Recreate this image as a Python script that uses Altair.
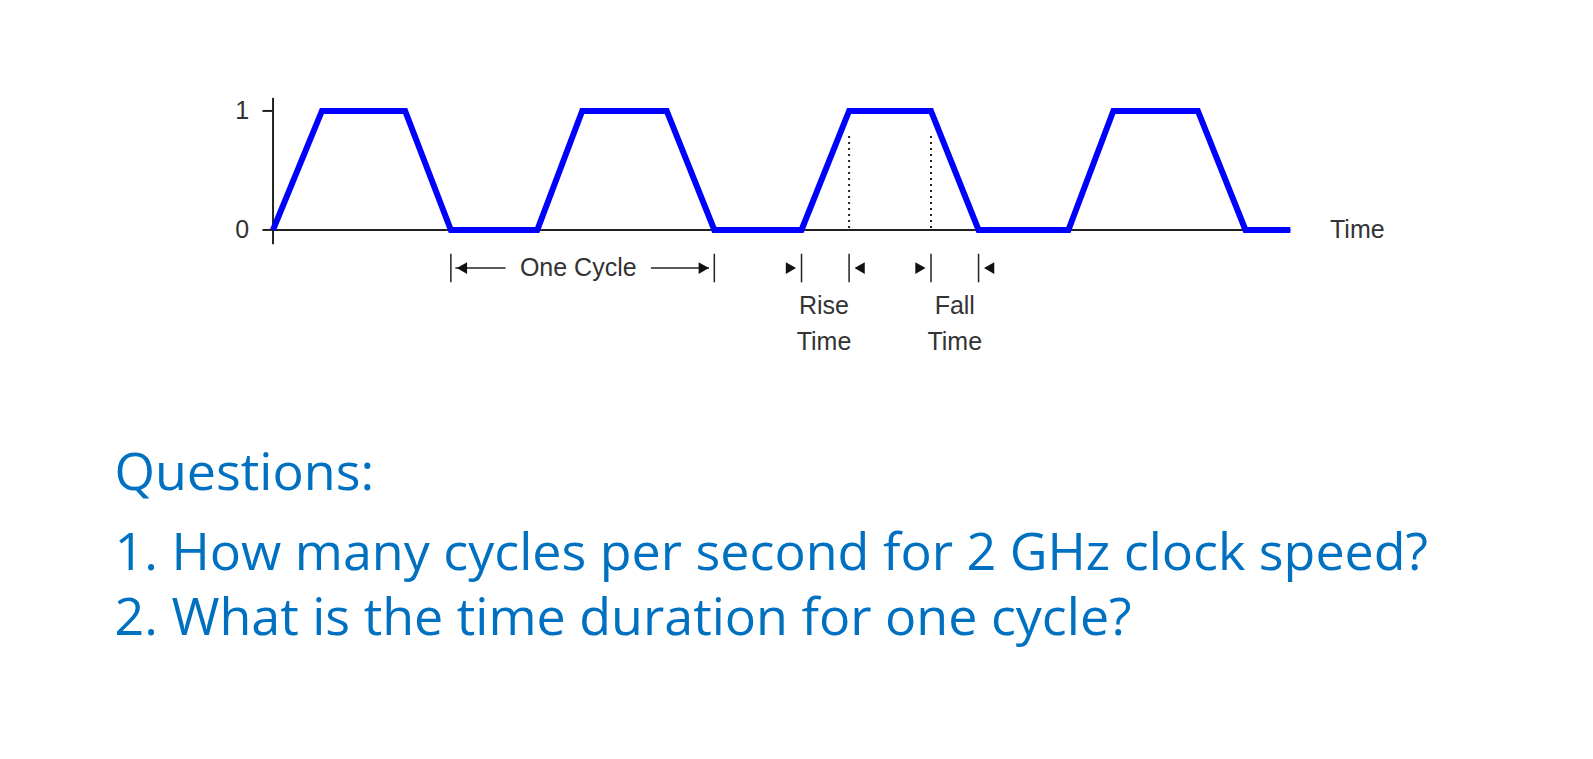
import altair as alt
import pandas as pd

# waveform (time units, one cycle = 10)
wave_t = [0, 1.85, 5.0, 6.73, 10.0, 11.7, 14.9, 16.7, 20.0, 21.8, 24.9, 26.7, 30.1, 31.8, 35.0, 36.8, 38.5]
wave_v = [0, 1, 1, 0, 0, 1, 1, 0, 0, 1, 1, 0, 0, 1, 1, 0, 0]
ytick_vals = [0, 1]
ytick_labels = ["0", "1"]
marker_t = [6.73, 16.7, 20.0, 21.8, 24.9, 26.7]
dotted_t = [21.8, 24.9]

X = alt.Scale(domain=[-10.03, 49.65])
Y = alt.Scale(domain=[-4.378, 1.865])
W, H = 1577, 743

def enc(df, **kw):
    return alt.Chart(df).encode(
        x=alt.X("t:Q", scale=X, axis=None),
        y=alt.Y("v:Q", scale=Y, axis=None), **kw)

def seg(t1, v1, t2, v2, color="#222", width=2, dash=None):
    df = pd.DataFrame({"t": [t1], "v": [v1], "t2": [t2], "v2": [v2]})
    kw = dict(color=color, strokeWidth=width)
    if dash:
        kw["strokeDash"] = dash
    return alt.Chart(df).mark_rule(**kw).encode(
        x=alt.X("t:Q", scale=X, axis=None), y=alt.Y("v:Q", scale=Y, axis=None),
        x2="t2:Q", y2="v2:Q")

FONT = "Liberation Sans"
layers = []
# axes
layers.append(seg(0, -0.12, 0, 1.11))
layers.append(seg(0, 0, 38.5, 0))
for v in ytick_vals:
    layers.append(seg(-0.4, v, 0, v))
layers.append(enc(pd.DataFrame({"t": [-0.9] * 2, "v": ytick_vals, "label": ytick_labels}))
              .mark_text(fontSize=25, font=FONT, color="#333", align="right", baseline="middle")
              .encode(text="label:N"))
# dotted
for t in dotted_t:
    layers.append(seg(t, 0.79, t, 0, width=2, dash=[2, 4]))
# waveform
layers.append(enc(pd.DataFrame({"t": wave_t, "v": wave_v}))
              .mark_line(color="#0000FF", strokeWidth=6, strokeJoin="miter"))
# marker verticals
for t in marker_t:
    layers.append(seg(t, -0.2, t, -0.44, width=1.5))
# one cycle arrow line
layers.append(seg(6.9, -0.32, 8.8, -0.32, width=1.5))
layers.append(seg(14.3, -0.32, 16.5, -0.32, width=1.5))
tri_r = pd.DataFrame({"t": [16.3, 19.6, 24.5], "v": [-0.32] * 3})
tri_l = pd.DataFrame({"t": [7.15, 22.2, 27.1], "v": [-0.32] * 3})
layers.append(enc(tri_r).mark_point(shape="triangle-right", filled=True, size=140, color="#111", opacity=1))
layers.append(enc(tri_l).mark_point(shape="triangle-left", filled=True, size=140, color="#111", opacity=1))
labels = pd.DataFrame({
    "t": [11.55, 20.85, 25.8, 20.85, 25.8, 40.0],
    "v": [-0.32, -0.64, -0.64, -0.94, -0.94, 0.0],
    "label": ["One Cycle", "Rise", "Fall", "Time", "Time", "Time"],
    "al": ["center"] * 5 + ["left"]})
layers.append(enc(labels[labels.al == "center"]).mark_text(fontSize=25, font=FONT, color="#333",
              align="center", baseline="middle").encode(text="label:N"))
layers.append(enc(labels[labels.al == "left"]).mark_text(fontSize=25, font=FONT, color="#333",
              align="left", baseline="middle").encode(text="label:N"))
# questions
q = pd.DataFrame({
    "t": [(112 - 268) / 26] * 3,
    "v": [(226 - 468) / 118, (226 - 547) / 118, (226 - 612) / 118],
    "label": ["Questions:", "1. How many cycles per second for 2 GHz clock speed?",
              "2. What is the time duration for one cycle?"]})
layers.append(enc(q).mark_text(fontSize=52, font="Open Sans", color="#0070C0", align="left",
              baseline="middle").encode(text="label:N"))

chart = alt.layer(*layers).properties(width=W, height=H, padding=0,
    autosize=alt.AutoSizeParams(type="none")).configure_view(stroke=None)
chart.save("out.html", embed_options={"renderer": "svg", "actions": False})
